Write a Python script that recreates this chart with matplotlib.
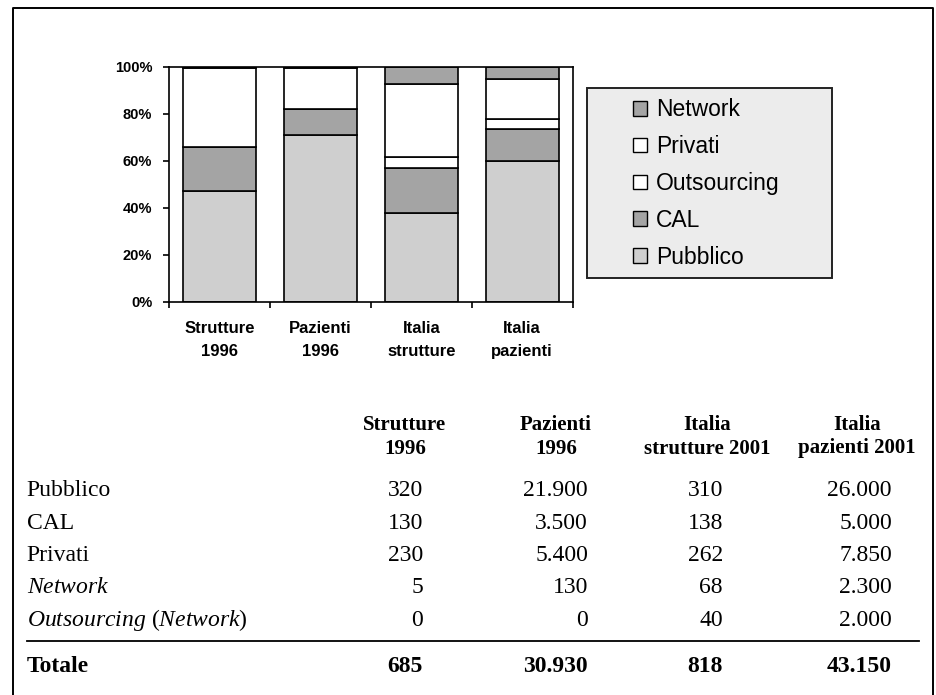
import matplotlib
matplotlib.use("Agg")
import matplotlib.pyplot as plt
from matplotlib.patches import Rectangle, Patch
from matplotlib.lines import Line2D

# chart shares (%)
categories = ["Strutture\n1996", "Pazienti\n1996", "Italia\nstrutture", "Italia\npazienti"]
pubblico = [47.2, 70.9, 37.9, 60.0]
cal = [18.8, 10.9, 18.8, 13.5]
outsourcing = [0.0, 0.0, 4.9, 4.4]
privati = [33.3, 17.8, 30.9, 16.7]
network = [0.7, 0.4, 7.5, 5.4]

# table below the chart
col_headers = [("Strutture", "1996"), ("Pazienti", "1996"),
               ("Italia", "strutture 2001"), ("Italia", "pazienti 2001")]
row_labels = ["Pubblico", "CAL", "Privati", r"$\mathit{Network}$",
              r"$\mathit{Outsourcing}$ ($\mathit{Network}$)"]
strutture_1996 = [320, 130, 230, 5, 0]
pazienti_1996 = [21900, 3500, 5400, 130, 0]
italia_strutture_2001 = [310, 138, 262, 68, 40]
italia_pazienti_2001 = [26000, 5000, 7850, 2300, 2000]

W, H = 936, 695
plt.rcParams["font.family"] = "Liberation Sans"
plt.rcParams["mathtext.fontset"] = "custom"
plt.rcParams["mathtext.rm"] = "Liberation Serif"
plt.rcParams["mathtext.it"] = "Liberation Serif:italic"

fig = plt.figure(figsize=(W / 100, H / 100), dpi=100)


def fx(x):
    return x / W


def fy(y):
    return 1 - y / H


# outer frame (open at the bottom)
fig.add_artist(Line2D([fx(12.5), fx(12.5), fx(933), fx(933)], [0, fy(8), fy(8), 0],
                      transform=fig.transFigure, color="black", lw=1.4))

# stacked bars
ax = fig.add_axes([fx(169), fy(301.7), fx(572.7) - fx(169), fy(66.7) - fy(301.7)])
series = [("Pubblico", pubblico, "#cfcfcf"), ("CAL", cal, "#a4a4a4"),
          ("Outsourcing", outsourcing, "white"), ("Privati", privati, "white"),
          ("Network", network, "#a4a4a4")]
x = range(len(categories))
bottom = [0.0] * len(categories)
for name, vals, color in series:
    ax.bar(x, vals, bottom=bottom, width=0.72, color=color, edgecolor="black", linewidth=1.2)
    bottom = [b + v for b, v in zip(bottom, vals)]

ax.set_xlim(-0.5, 3.5)
ax.set_ylim(0, 100)
for s in ax.spines.values():
    s.set_linewidth(1.2)
ax.set_yticks(range(0, 101, 20))
ax.set_yticklabels([f"{v}%" for v in range(0, 101, 20)], fontsize=10.5, fontweight="bold")
ax.tick_params(axis="y", length=4, width=1.2, pad=8)
ax.set_xticks(list(x))
ax.set_xticklabels(categories, fontsize=12, fontweight="bold", linespacing=1.65)
ax.tick_params(axis="x", which="major", length=0, pad=14)
ax.set_xticks([-0.5, 0.5, 1.5, 2.5, 3.5], minor=True)
ax.tick_params(axis="x", which="minor", length=4, width=1.2)

# legend box
fig.patches.append(Rectangle((fx(586.7), fy(278.3)), fx(831.7) - fx(586.7), fy(88.3) - fy(278.3),
                             transform=fig.transFigure, facecolor="#ececec",
                             edgecolor="#222222", lw=1.4))
handles = [Patch(facecolor=c, edgecolor="black", lw=1) for _, _, c in series[::-1]]
labels = [n for n, _, _ in series[::-1]]
fig.legend(handles, labels, loc="upper left", bbox_to_anchor=(fx(633), fy(98.5)),
           frameon=False, fontsize=16.5, handlelength=0.6, handleheight=0.6,
           handletextpad=0.4, labelspacing=0.6, borderpad=0, borderaxespad=0)

# table
serif = "Liberation Serif"
head_x = [405, 556, 707, 857]
val_x = [423, 588, 723, 892]
row_y = [491, 523.3, 555.5, 587.7, 620]
columns = [strutture_1996, pazienti_1996, italia_strutture_2001, italia_pazienti_2001]


def fmt(v):
    return f"{v:,}".replace(",", ".")


for hx, (l1, l2) in zip(head_x, col_headers):
    fig.text(fx(hx), fy(425), l1, ha="center", va="center", family=serif,
             fontsize=15, fontweight="bold")
    fig.text(fx(hx), fy(448.5), l2, ha="center", va="center", family=serif,
             fontsize=15, fontweight="bold")

for ry, label in zip(row_y, row_labels):
    fig.text(fx(26.7), fy(ry), label, ha="left", va="center", family=serif, fontsize=17)

for vx, col in zip(val_x, columns):
    for ry, v in zip(row_y, col):
        fig.text(fx(vx), fy(ry), fmt(v), ha="right", va="center", family=serif, fontsize=17)
    fig.text(fx(vx), fy(666.7), fmt(sum(col)), ha="right", va="center", family=serif,
             fontsize=17, fontweight="bold")

fig.text(fx(26.7), fy(666.7), "Totale", ha="left", va="center", family=serif,
         fontsize=17, fontweight="bold")
fig.add_artist(Line2D([fx(26.7), fx(919.3)], [fy(641), fy(641)],
                      transform=fig.transFigure, color="black", lw=1.3))

fig.savefig("out.png", dpi=100)
plt.close(fig)
